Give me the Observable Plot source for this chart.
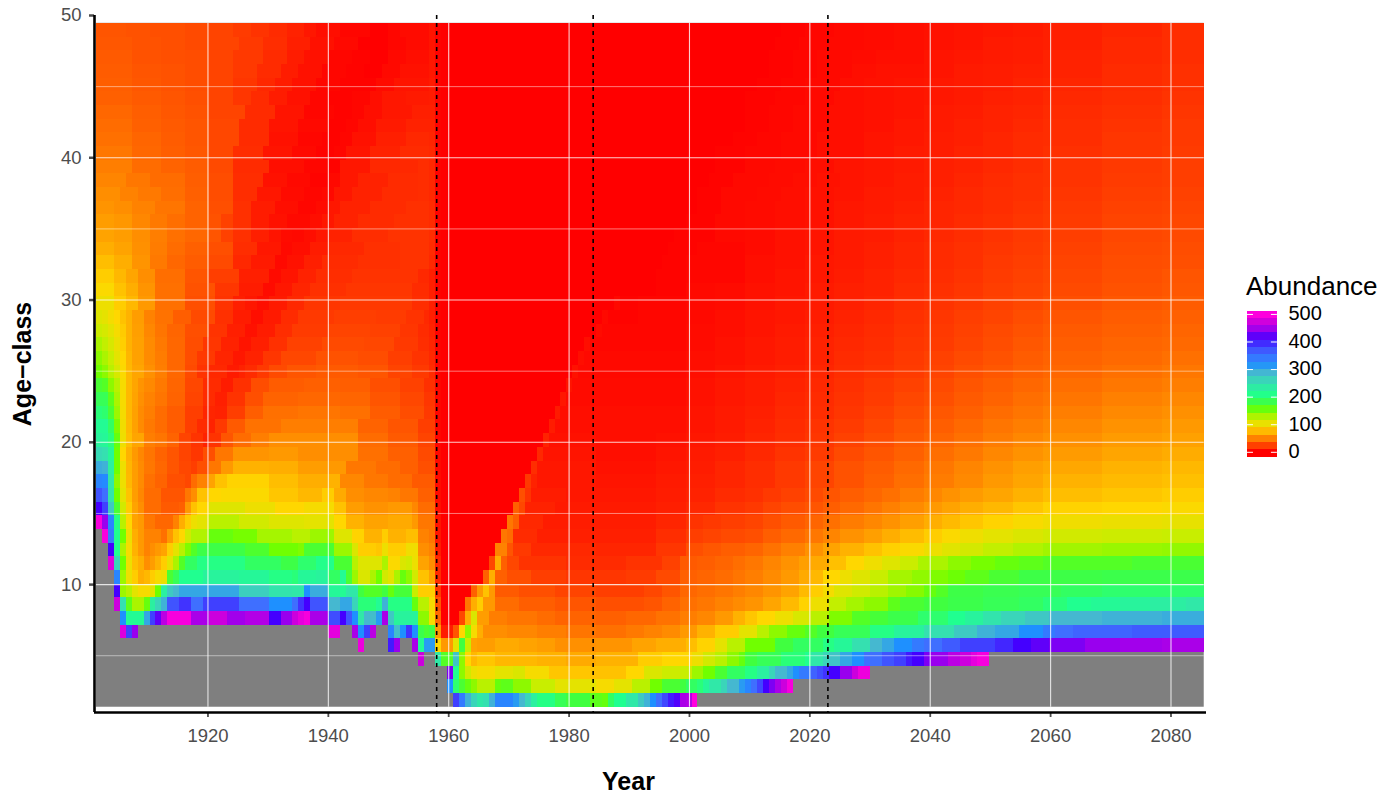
<!DOCTYPE html>
<html><head><meta charset="utf-8">
<script src="https://cdn.jsdelivr.net/npm/d3@7"></script>
<script src="https://cdn.jsdelivr.net/npm/@observablehq/plot@0.6"></script>
<style>
html,body{margin:0;padding:0;background:#fff;width:1393px;height:795px;overflow:hidden;font-family:"Liberation Sans",Arial,sans-serif}
#wrap{position:relative;width:1393px;height:795px}
#legendTitle{position:absolute;left:1246px;top:271px;font-size:26px;line-height:30px;color:#000}
#legend{position:absolute;left:1247px;top:300px}
</style></head><body><div id="wrap"><div id="main"></div><div id="legendTitle">Abundance</div><div id="legend"></div></div>
<script>
// Each row: year, value, year, value ... a value holds until the next listed year; null = no data.
const age01=[1901,null,1961,385,1962,340,1963,290,1964,260,1965,240,1966,250,1967,290,1968,330,1971,310,1972,285,1973,260,1974,230,1975,205,1978,185,1980,175,1984,160,1986,155,1987,190,1988,210,1990,240,1992,270,1993,290,1994,320,1995,350,1996,380,1997,400,1998,415,1999,450,2000,455,2001,500,2002,null];
const age02=[1901,null,1960,320,1961,195,1962,170,1963,155,1964,140,1965,125,1968,155,1969,160,1971,140,1974,120,1978,105,1985,95,1988,105,1991,125,1994,150,1996,170,1999,175,2000,190,2002,200,2003,220,2004,240,2006,260,2007,285,2009,310,2010,330,2011,350,2012,380,2013,410,2014,430,2015,450,2016,470,2017,495,2018,null];
const age03=[1901,null,1960,430,1961,210,1962,140,1963,115,1964,100,1965,95,1968,105,1971,110,1973,95,1977,82,1984,80,1990,90,1993,110,1996,118,1999,120,2001,135,2003,150,2005,170,2007,190,2010,205,2012,230,2014,260,2015,285,2017,300,2018,320,2019,340,2021,360,2022,375,2023,390,2024,410,2026,440,2028,470,2029,490,2031,null];
const age04=[1901,null,1955,470,1956,null,1958,240,1959,165,1961,275,1962,140,1963,90,1964,75,1965,82,1968,75,1975,72,1980,68,1985,72,1992,85,1996,90,2001,100,2003,115,2005,125,2007,140,2009,155,2010,175,2012,185,2016,200,2020,210,2021,240,2023,260,2024,275,2026,300,2028,320,2030,350,2033,370,2035,385,2037,400,2038,410,2040,430,2041,440,2044,460,2046,470,2048,485,2049,495,2051,null];
const age05=[1901,null,1945,490,1946,null,1950,400,1951,440,1952,null,1954,450,1955,215,1956,310,1958,90,1959,60,1961,105,1962,175,1963,120,1964,65,1965,62,1968,68,1972,65,1975,62,1978,56,1985,58,1991,65,1995,70,2000,78,2002,88,2005,105,2007,125,2010,150,2015,175,2018,190,2023,205,2025,220,2028,250,2031,285,2033,300,2035,320,2038,340,2040,350,2043,365,2046,385,2052,395,2055,410,2058,420,2061,430,2067,440,2073,445,2080,450];
const age06=[1901,null,1905,480,1906,385,1907,440,1908,null,1940,485,1942,null,1944,450,1945,320,1946,385,1947,460,1948,null,1950,330,1951,280,1952,320,1953,390,1954,320,1955,180,1956,170,1957,175,1958,60,1959,10,1961,30,1962,90,1963,140,1964,95,1965,70,1966,55,1970,52,1975,48,1980,44,1985,42,1990,46,1993,50,1996,54,1999,60,2002,72,2005,85,2009,105,2012,125,2014,140,2017,155,2020,165,2022,175,2025,185,2031,205,2035,225,2040,250,2045,270,2049,290,2052,300,2056,320,2060,340,2062,350,2065,358,2075,365];
const age07=[1901,null,1905,320,1906,215,1909,300,1910,385,1911,420,1912,460,1913,495,1917,450,1920,470,1923,445,1926,455,1930,410,1932,440,1934,470,1935,485,1936,495,1937,450,1940,375,1942,410,1943,370,1944,320,1945,240,1946,285,1947,280,1948,310,1949,450,1950,270,1951,225,1955,140,1957,95,1958,40,1959,0,1962,25,1963,70,1964,110,1965,62,1967,48,1970,44,1975,40,1978,36,1985,35,1990,38,1995,43,1999,48,2002,52,2005,60,2008,72,2010,82,2012,90,2015,100,2018,112,2021,125,2024,145,2028,165,2031,172,2034,180,2039,195,2044,210,2047,225,2050,245,2053,260,2057,272,2061,285,2070,290,2080,295];
const age08=[1901,null,1904,470,1905,250,1906,160,1907,130,1909,155,1910,230,1911,260,1912,290,1913,370,1915,390,1917,350,1919,385,1925,350,1930,320,1934,350,1935,390,1936,410,1937,370,1940,285,1942,300,1944,260,1945,200,1948,215,1949,290,1950,205,1954,155,1955,125,1957,95,1958,30,1959,0,1963,45,1964,70,1965,85,1966,60,1968,40,1972,34,1978,30,1985,28,1993,30,1996,36,1999,42,2002,45,2005,50,2008,54,2010,58,2013,66,2016,76,2019,88,2021,100,2024,122,2027,132,2030,140,2034,160,2036,170,2040,175,2044,180,2050,185,2056,190,2060,200,2064,210,2068,218,2073,225,2078,232,2084,240];
const age09=[1901,null,1904,410,1905,135,1906,125,1907,105,1908,95,1910,105,1911,150,1912,230,1913,270,1914,285,1915,300,1925,265,1930,245,1934,240,1936,320,1937,295,1940,220,1942,215,1943,240,1945,175,1946,165,1949,175,1950,155,1951,172,1954,120,1955,85,1958,20,1959,0,1964,35,1965,60,1966,80,1967,60,1968,32,1972,28,1978,24,1985,22,1993,25,1996,30,1999,38,2002,41,2005,44,2008,48,2010,52,2013,58,2016,65,2019,76,2021,85,2023,96,2025,108,2028,116,2031,125,2034,134,2037,142,2040,155,2042,165,2044,178,2050,182,2056,185,2063,190,2070,195];
const age10=[1901,null,1904,330,1905,135,1906,100,1907,85,1908,70,1909,75,1910,85,1911,95,1912,100,1913,170,1914,185,1915,210,1919,225,1925,220,1930,205,1934,200,1935,220,1938,225,1940,190,1942,215,1943,170,1944,135,1945,110,1947,130,1948,150,1949,115,1950,105,1951,130,1952,155,1953,140,1954,115,1955,80,1957,65,1958,15,1959,0,1966,35,1967,70,1968,35,1970,28,1974,22,1980,19,1990,21,1995,26,1999,35,2002,37,2005,40,2008,44,2010,48,2013,54,2016,60,2019,68,2021,75,2023,90,2026,100,2028,108,2031,120,2034,132,2038,139,2041,145,2044,152,2047,160,2051,170,2056,178,2070,180];
const age11=[1901,null,1903,480,1904,260,1905,150,1906,100,1907,78,1908,70,1909,55,1910,62,1911,72,1912,85,1913,105,1914,130,1915,165,1916,190,1918,205,1926,190,1932,178,1935,195,1938,208,1941,170,1944,125,1945,108,1949,130,1950,92,1952,110,1953,115,1954,100,1955,65,1957,55,1958,15,1959,0,1967,25,1968,70,1969,35,1970,25,1972,18,1980,15,1990,18,1996,23,1999,32,2002,34,2005,37,2008,41,2010,45,2013,51,2016,57,2019,63,2021,68,2024,79,2027,90,2030,99,2033,108,2036,119,2039,130,2044,140,2048,148,2052,155,2056,160,2060,165,2075,170];
const age12=[1901,null,1903,410,1904,210,1905,130,1906,95,1907,72,1908,60,1909,50,1910,55,1911,60,1912,65,1913,85,1914,105,1915,125,1916,145,1917,165,1918,178,1926,168,1930,150,1935,145,1936,170,1941,135,1944,110,1945,85,1948,82,1949,100,1950,85,1953,98,1955,55,1957,50,1958,10,1959,0,1968,50,1970,30,1971,20,1974,14,1985,13,1995,19,2000,28,2003,31,2006,34,2010,37,2013,43,2016,49,2020,57,2023,65,2026,72,2030,80,2033,87,2036,93,2040,100,2043,107,2046,114,2050,122,2055,128,2060,133,2070,136,2080,138];
const age13=[1901,null,1902,495,1903,340,1904,210,1905,150,1906,100,1907,70,1908,60,1909,50,1912,42,1913,60,1914,80,1915,90,1916,115,1917,128,1920,155,1924,148,1928,132,1934,125,1937,135,1941,108,1944,88,1946,72,1949,85,1950,72,1953,78,1955,50,1957,45,1958,8,1959,0,1969,45,1970,40,1971,15,1975,11,1985,11,1995,16,2000,22,2003,24,2006,26,2010,28,2013,34,2016,39,2020,45,2023,51,2026,57,2030,63,2033,70,2036,77,2040,85,2043,92,2046,99,2050,105,2055,110,2060,115,2070,118,2080,120];
const age14=[1901,495,1902,440,1903,330,1904,205,1905,125,1906,90,1907,65,1908,60,1909,45,1911,38,1914,50,1915,70,1916,85,1917,100,1918,105,1920,125,1925,115,1930,108,1936,105,1941,90,1943,72,1946,65,1950,68,1954,60,1955,45,1958,7,1959,0,1970,45,1971,35,1972,14,1976,10,1985,10,1995,13,2000,18,2003,20,2006,22,2010,24,2013,28,2016,32,2020,37,2023,42,2026,47,2030,52,2033,57,2036,63,2040,70,2043,76,2046,82,2050,88,2055,94,2060,98,2070,101,2080,103];
const age15=[1901,410,1902,385,1903,270,1904,170,1905,115,1906,85,1907,65,1908,55,1909,40,1912,32,1915,35,1916,60,1917,80,1918,90,1920,108,1926,100,1931,90,1936,95,1941,80,1943,62,1946,57,1950,60,1954,52,1955,40,1958,5,1959,0,1971,35,1972,25,1973,12,1978,9,1988,9,1995,11,2000,14,2005,18,2010,20,2013,24,2016,27,2020,30,2023,34,2026,39,2030,44,2033,49,2036,54,2040,60,2043,65,2046,70,2050,75,2055,82,2060,88,2070,90,2080,92];
const age16=[1901,370,1902,350,1903,245,1904,150,1905,105,1906,80,1907,62,1908,52,1909,40,1912,30,1916,45,1917,55,1918,80,1920,90,1922,92,1930,82,1935,75,1939,85,1941,68,1943,55,1946,52,1950,50,1952,45,1955,35,1958,4,1959,0,1972,28,1973,18,1974,10,1980,8,1990,8,1995,10,2000,12,2005,15,2010,17,2013,20,2016,23,2020,26,2023,30,2026,34,2030,38,2033,42,2036,47,2040,52,2043,57,2046,61,2050,66,2055,72,2060,78,2070,82,2080,85];
const age17=[1901,330,1902,325,1903,240,1904,140,1905,100,1906,75,1907,62,1908,54,1909,42,1911,36,1913,28,1916,25,1917,40,1918,50,1920,65,1921,80,1923,88,1930,78,1935,70,1940,72,1942,52,1946,45,1950,40,1954,32,1958,4,1959,0,1973,20,1974,12,1975,8,1985,7,1995,9,2000,11,2005,13,2010,16,2015,20,2020,24,2025,29,2030,35,2035,41,2040,47,2045,53,2050,60,2055,66,2060,72,2070,76,2080,79];
const age18=[1901,295,1902,290,1903,230,1904,150,1905,100,1906,74,1907,62,1908,54,1909,45,1911,38,1913,30,1915,25,1917,22,1918,28,1920,45,1922,60,1924,72,1930,70,1935,62,1940,60,1943,45,1948,40,1952,35,1955,28,1958,3,1959,0,1974,16,1975,8,1985,6,1995,8,2000,10,2005,13,2010,16,2015,20,2020,24,2025,29,2030,33,2035,39,2040,45,2045,51,2050,57,2055,63,2060,67,2070,72,2080,75];
const age19=[1901,255,1902,250,1903,220,1904,150,1905,90,1906,72,1907,60,1908,52,1909,44,1911,36,1913,30,1915,24,1917,19,1919,28,1921,45,1924,58,1930,60,1935,55,1940,55,1945,42,1950,35,1955,26,1958,3,1959,0,1975,14,1976,7,1985,5,1995,7,2000,9,2005,11,2010,14,2015,18,2020,21,2025,26,2030,30,2035,35,2040,41,2045,46,2050,52,2055,57,2060,61,2070,66,2080,69];
const age20=[1901,225,1902,220,1903,200,1904,155,1905,100,1906,78,1907,66,1909,48,1911,44,1913,36,1915,24,1917,18,1919,12,1920,18,1922,30,1924,40,1927,48,1930,55,1940,55,1945,40,1950,32,1955,24,1958,2,1959,0,1976,12,1977,6,1985,5,1995,6,2000,8,2005,10,2010,13,2015,16,2020,19,2025,23,2030,27,2035,32,2040,37,2045,42,2050,47,2055,52,2060,56,2070,61,2080,64];
const age21=[1901,215,1903,190,1904,145,1905,98,1906,76,1907,64,1908,54,1909,46,1911,40,1913,33,1916,22,1918,15,1920,12,1921,20,1923,32,1926,43,1932,48,1940,48,1945,36,1950,30,1955,22,1958,2,1959,0,1977,10,1978,5,1990,5,2000,7,2005,9,2010,12,2015,15,2020,18,2025,21,2030,25,2035,30,2040,34,2045,39,2050,44,2055,48,2060,52,2070,57,2080,60];
const age22=[1901,200,1902,195,1903,170,1904,135,1905,96,1906,75,1907,64,1908,54,1909,48,1911,40,1913,33,1916,22,1919,13,1921,12,1923,22,1926,34,1929,42,1935,44,1942,42,1947,33,1952,27,1956,20,1958,2,1959,0,1978,9,1979,5,1990,5,2000,7,2005,9,2010,11,2015,14,2020,16,2025,19,2030,23,2035,27,2040,31,2045,35,2050,40,2055,44,2060,48,2070,53,2080,56];
const age23=[1901,185,1903,160,1904,130,1905,95,1906,75,1907,65,1908,56,1909,50,1911,44,1913,36,1916,24,1919,15,1921,11,1923,18,1926,28,1929,36,1935,38,1942,37,1947,30,1952,25,1956,19,1958,2,1959,0,1979,8,1980,4,1990,4,2000,6,2005,8,2010,10,2015,13,2020,15,2025,18,2030,21,2035,25,2040,28,2045,32,2050,36,2055,41,2060,44,2070,49,2080,52];
const age24=[1901,170,1902,165,1903,140,1904,125,1905,95,1906,75,1907,66,1908,58,1909,53,1911,46,1913,37,1916,25,1919,15,1922,10,1924,17,1927,27,1930,33,1936,35,1942,34,1947,28,1952,23,1956,17,1958,2,1959,0,1980,7,1981,4,1990,4,2000,6,2005,8,2010,10,2015,12,2020,14,2025,17,2030,20,2035,23,2040,26,2045,30,2050,34,2055,38,2060,41,2070,45,2080,48];
const age25=[1901,150,1902,140,1903,125,1904,112,1905,92,1906,75,1907,66,1909,56,1911,48,1913,38,1916,26,1918,18,1920,14,1923,9,1925,12,1926,15,1928,20,1930,26,1933,30,1938,32,1945,30,1950,24,1954,20,1957,15,1958,1,1959,0,1981,6,1982,3,1990,3,2000,5,2005,7,2010,9,2015,11,2020,13,2025,16,2030,18,2035,21,2040,24,2045,28,2050,31,2055,35,2060,38,2070,42,2080,45];
const age26=[1901,140,1902,130,1903,120,1904,105,1905,90,1906,74,1907,64,1909,54,1911,47,1913,38,1916,27,1918,20,1921,13,1924,8,1926,12,1929,19,1932,25,1938,29,1945,27,1950,22,1954,18,1957,14,1958,1,1959,0,1982,5,1983,3,1990,3,2000,5,2005,6,2010,8,2015,10,2020,12,2025,15,2030,17,2035,20,2040,23,2045,26,2050,29,2055,33,2060,36,2070,39,2080,42];
const age27=[1901,130,1902,122,1903,112,1904,100,1905,86,1906,72,1907,64,1909,54,1911,46,1913,38,1916,27,1919,19,1922,12,1925,7,1927,11,1930,17,1933,23,1939,26,1946,25,1951,20,1955,16,1957,13,1958,1,1959,0,1983,5,1984,2,1990,2,2000,4,2005,6,2010,8,2015,10,2020,12,2025,14,2030,16,2035,19,2040,21,2045,24,2050,27,2055,31,2060,34,2070,37,2080,39];
const age28=[1901,118,1902,113,1903,105,1904,95,1905,84,1906,72,1907,63,1909,52,1911,44,1913,37,1916,28,1920,18,1923,11,1926,6,1928,10,1931,16,1934,21,1940,24,1947,23,1952,19,1955,15,1957,12,1958,1,1959,0,1985,4,1986,2,1992,2,2000,4,2005,5,2010,7,2015,9,2020,11,2025,13,2030,15,2035,18,2040,20,2045,23,2050,26,2055,29,2060,32,2070,35,2080,37];
const age29=[1901,108,1902,104,1903,96,1904,90,1905,80,1906,72,1907,62,1909,50,1911,43,1914,34,1917,26,1921,17,1924,10,1927,5,1929,9,1932,15,1935,20,1941,22,1948,21,1953,18,1956,14,1957,11,1958,1,1959,0,1986,3,1987,1,1992,2,2000,3,2005,5,2010,7,2015,8,2020,10,2025,12,2030,14,2035,17,2040,19,2045,22,2050,24,2055,27,2060,30,2070,33,2080,35];
const age30=[1901,100,1904,85,1906,75,1908,60,1911,42,1916,28,1921,18,1924,11,1926,8,1928,5,1930,9,1933,14,1936,19,1942,20,1949,20,1954,16,1957,11,1958,1,1959,0,1988,3,1989,1,1992,2,2000,3,2005,4,2010,6,2015,8,2020,9,2025,11,2030,13,2035,16,2040,18,2045,20,2050,23,2055,25,2060,28,2070,31,2080,33];
const age31=[1901,92,1904,80,1906,70,1908,58,1911,42,1916,29,1921,19,1925,10,1929,4,1931,8,1934,13,1937,17,1943,19,1950,19,1954,15,1957,11,1958,1,1959,0,1995,1,2000,3,2005,4,2010,6,2015,7,2020,9,2025,11,2030,12,2035,15,2040,17,2045,19,2050,22,2055,24,2060,26,2070,29,2080,31];
const age32=[1901,85,1904,75,1906,66,1908,55,1911,41,1916,30,1920,22,1925,11,1930,4,1932,7,1935,12,1938,16,1944,18,1951,18,1955,14,1957,11,1958,1,1959,0,1995,1,2000,2,2010,5,2015,7,2020,8,2025,10,2030,12,2035,14,2040,16,2045,18,2050,21,2055,23,2060,25,2070,28,2080,30];
const age33=[1901,78,1904,70,1907,58,1910,46,1913,38,1916,33,1920,26,1924,14,1927,9,1931,3,1933,6,1936,11,1939,15,1945,17,1952,18,1957,14,1958,1,1959,0,1996,1,2000,2,2010,5,2015,6,2020,8,2025,9,2030,11,2035,13,2040,15,2045,17,2050,20,2055,22,2060,24,2070,27,2080,28];
const age34=[1901,70,1904,65,1907,56,1910,47,1913,40,1916,35,1920,28,1924,16,1928,8,1932,3,1934,5,1937,10,1940,14,1946,17,1952,18,1957,15,1958,1,1959,0,1997,1,2002,2,2010,4,2015,6,2020,7,2025,9,2030,11,2035,13,2040,15,2045,17,2050,19,2055,21,2060,23,2070,26,2080,27];
const age35=[1901,65,1904,62,1907,55,1910,48,1913,42,1916,38,1920,30,1922,23,1924,17,1927,11,1930,7,1932,4,1934,3,1936,5,1938,8,1940,12,1944,16,1950,18,1957,16,1958,1,1959,0,1998,1,2005,3,2010,4,2015,6,2020,7,2025,9,2030,10,2035,12,2040,14,2045,16,2050,18,2055,20,2060,22,2070,25,2080,26];
const age36=[1901,62,1904,59,1907,52,1910,46,1913,41,1916,36,1920,29,1922,23,1924,17,1927,10,1930,6,1933,3,1935,3,1937,5,1939,8,1941,12,1945,15,1951,17,1957,15,1958,1,1959,0,2000,1,2005,3,2010,4,2015,5,2020,6,2025,8,2030,10,2035,12,2040,13,2045,15,2050,17,2055,19,2060,21,2070,24,2080,25];
const age37=[1901,58,1904,55,1907,50,1911,44,1916,36,1920,28,1924,17,1927,10,1931,5,1935,2,1938,4,1940,8,1942,12,1947,15,1953,17,1957,15,1958,1,1959,0,2002,1,2006,3,2010,4,2015,5,2020,6,2025,8,2030,9,2035,11,2040,13,2045,14,2050,16,2055,18,2060,20,2070,23,2080,24];
const age38=[1901,55,1905,50,1908,46,1912,41,1916,35,1920,27,1924,16,1928,8,1932,4,1936,2,1939,3,1941,8,1944,12,1949,15,1955,16,1957,14,1958,1,1959,0,2002,1,2006,3,2012,4,2016,5,2020,6,2025,7,2030,9,2035,10,2040,12,2045,14,2050,16,2055,17,2060,19,2070,22,2080,23];
const age39=[1901,51,1906,45,1910,40,1916,34,1920,27,1924,16,1929,6,1933,3,1937,1,1940,3,1942,8,1945,12,1950,15,1955,16,1957,14,1958,1,1959,0,2004,1,2008,3,2014,4,2018,5,2022,6,2026,7,2030,8,2035,10,2040,11,2045,13,2050,15,2055,17,2060,18,2070,21,2080,22];
const age40=[1901,48,1907,40,1912,36,1916,33,1920,26,1924,15,1930,5,1936,2,1940,1,1942,8,1947,14,1955,16,1957,14,1958,1,1959,0,2005,1,2010,3,2015,4,2020,5,2025,7,2030,8,2035,9,2040,11,2045,12,2050,14,2055,16,2060,18,2070,20,2080,22];
const age41=[1901,45,1907,38,1912,34,1916,31,1920,25,1924,16,1929,7,1934,3,1938,1,1941,2,1943,7,1947,12,1952,15,1957,14,1958,1,1959,0,2005,1,2010,2,2016,3,2022,5,2030,7,2035,9,2040,10,2045,12,2050,13,2055,15,2060,17,2070,19,2080,21];
const age42=[1901,42,1907,37,1912,33,1916,30,1920,25,1925,15,1930,6,1935,2,1939,1,1942,2,1944,6,1948,11,1953,14,1957,13,1958,1,1959,0,2008,1,2012,2,2016,3,2022,5,2030,7,2035,8,2040,10,2045,11,2050,13,2055,15,2060,16,2070,19,2080,20];
const age43=[1901,40,1907,35,1912,32,1916,30,1920,25,1925,15,1930,7,1935,3,1940,1,1943,2,1945,5,1948,9,1953,12,1957,12,1958,1,1959,0,2010,1,2014,2,2018,3,2024,5,2030,6,2035,8,2040,9,2045,11,2050,12,2055,14,2060,16,2070,18,2080,20];
const age44=[1901,38,1907,34,1912,31,1916,29,1920,24,1926,15,1931,7,1936,2,1941,1,1944,2,1946,5,1949,8,1954,11,1957,11,1958,1,1959,0,2010,1,2014,2,2018,3,2024,5,2030,6,2035,7,2040,9,2045,10,2050,12,2055,13,2060,15,2070,17,2080,19];
const age45=[1901,35,1907,32,1912,30,1916,28,1920,24,1924,19,1927,15,1930,10,1933,6,1937,2,1940,1,1944,2,1947,5,1949,8,1953,9,1957,10,1958,1,1959,0,2010,1,2015,2,2020,3,2025,5,2030,6,2035,7,2040,8,2045,9,2050,11,2055,12,2060,14,2070,16,2080,18];
const age46=[1901,34,1907,31,1912,29,1916,27,1920,24,1924,19,1928,14,1931,10,1934,6,1938,2,1942,1,1945,1,1948,4,1951,7,1957,9,1958,1,1959,0,2012,1,2016,2,2020,3,2026,5,2030,6,2035,7,2040,8,2045,9,2050,10,2055,12,2060,13,2070,15,2080,17];
const age47=[1901,33,1907,30,1912,29,1916,27,1920,24,1924,20,1928,15,1932,10,1935,6,1939,2,1943,1,1946,0,1949,3,1952,6,1957,8,1958,1,1959,0,2014,1,2018,2,2022,3,2028,5,2032,6,2040,7,2045,9,2050,10,2055,11,2060,12,2070,15,2080,17];
const age48=[1901,32,1907,29,1912,28,1916,27,1920,24,1924,20,1929,15,1933,10,1936,6,1940,2,1944,1,1947,0,1950,3,1953,5,1957,8,1958,1,1959,0,2014,1,2018,2,2022,3,2028,4,2032,5,2040,7,2045,8,2050,9,2055,10,2060,12,2070,14,2080,16];
const age49=[1901,31,1907,29,1912,28,1916,26,1920,24,1925,20,1929,16,1933,11,1937,6,1941,3,1945,0,1950,2,1953,4,1957,7,1958,1,1959,0,2015,1,2019,2,2024,3,2030,4,2035,5,2040,6,2045,7,2050,9,2055,10,2060,11,2070,14,2080,16];
const age50=[1901,30,1906,29,1910,28,1916,26,1920,24,1924,21,1927,18,1930,15,1933,12,1936,8,1938,5,1942,2,1947,0,1950,2,1952,4,1957,7,1958,1,1959,0,2016,1,2020,2,2025,3,2030,4,2035,5,2040,6,2045,7,2050,8,2055,9,2060,11,2070,13,2080,16];
const ageRows=[age01,age02,age03,age04,age05,age06,age07,age08,age09,age10,age11,age12,age13,age14,age15,age16,age17,age18,age19,age20,age21,age22,age23,age24,age25,age26,age27,age28,age29,age30,age31,age32,age33,age34,age35,age36,age37,age38,age39,age40,age41,age42,age43,age44,age45,age46,age47,age48,age49,age50];

const yearTicks=[1920,1940,1960,1980,2000,2020,2040,2060,2080];
const ageTicks=[10,20,30,40,50];
const ageMinor=[5,15,25,35,45];
const periodYears=[1958,1984,2023];
const legendTicks=[0,100,200,300,400,500];
const legendBins=[0,1,2,3,4,5,6,7,8,9,10,11,12,13,14,15,16,17,18,19];
const colorStops=[0,30,60,90,120,150,175,210,250,285,320,350,385,410,440,470,500];
const colorHex=["#ff0000","#ff5500","#ff9900","#ffd700","#c8ee00","#70ff00","#40ff40","#20ff90","#35e0b0","#45b8d0","#1e90ff","#3f6fff","#4040ff","#4400ff","#9900ee","#cc00dd","#ff00dd"];
const colorOpts={type:"linear",domain:colorStops,range:colorHex,clamp:true,interpolate:"rgb"};

// Rows and columns of the raster are stretched slightly against the axes, as in the original image.
const colStep=0.98953, colStart=1901.47, rowStep=0.9614, rowStart=1.38;
const firstYear=1901,lastYear=2086;
const cells=[];
ageRows.forEach((row,ri)=>{
  for(let i=0;i<row.length;i+=2){
    const from=row[i], to=i+2<row.length?row[i+2]:lastYear+1, v=row[i+1];
    if(v==null) continue;
    for(let y=from;y<to;y++) cells.push({year:y,age:ri+1,value:v});
  }
});

const txt="#4d4d4d";
const plot=Plot.plot({
  width:1393,height:795,marginLeft:94,marginRight:187,marginTop:15,marginBottom:83,
  style:{fontFamily:'"Liberation Sans",Arial,sans-serif',background:"#fff",overflow:"visible"},
  x:{domain:[1901.15,2085.9]},
  y:{domain:[1.01,50]},
  color:colorOpts,
  marks:[
    Plot.rect([{a:colStart,b:colStart+186*colStep,c:rowStart,d:rowStart+50*rowStep}],{x1:"a",x2:"b",y1:"c",y2:"d",fill:"#7f7f7f"}),
    Plot.rect(cells,{
      x1:d=>colStart+(d.year-firstYear)*colStep,
      x2:d=>colStart+(d.year-firstYear+1)*colStep,
      y1:d=>rowStart+(d.age-1)*rowStep,
      y2:d=>rowStart+d.age*rowStep,
      fill:"value",shapeRendering:"crispEdges"}),
    Plot.ruleY(ageMinor,{x1:colStart,x2:colStart+186*colStep,stroke:"#fff",strokeWidth:0.6,strokeOpacity:0.8}),
    Plot.ruleY(ageTicks,{x1:colStart,x2:colStart+186*colStep,stroke:"#fff",strokeWidth:1.1,strokeOpacity:0.8}),
    Plot.ruleX(yearTicks,{y1:rowStart,y2:rowStart+50*rowStep,stroke:"#fff",strokeWidth:1.1,strokeOpacity:0.8}),
    Plot.ruleX(periodYears,{stroke:"#000",strokeWidth:1.6,strokeDasharray:"4 4"}),
    Plot.axisX({ticks:yearTicks,tickFormat:d=>String(d),tickSize:5,tickPadding:11,fontSize:18.5,label:null,color:txt,strokeWidth:1.8}),
    Plot.axisY({ticks:ageTicks,tickSize:5,tickPadding:8,fontSize:18.5,label:null,color:txt,strokeWidth:2.5}),
    Plot.ruleX([1901.15],{stroke:"#000",strokeWidth:2.6}),
    Plot.ruleY([1.01],{stroke:"#000",strokeWidth:2.6}),
    Plot.text(["Year"],{frameAnchor:"bottom",dy:77,dx:-22,fontSize:25,fontWeight:"bold",fill:"#000"}),
    Plot.text(["Age\u2212class"],{frameAnchor:"left",textAnchor:"middle",dx:-72,rotate:-90,fontSize:25,fontWeight:"bold",fill:"#000"})
  ]
});
document.getElementById("main").appendChild(plot);

const legendLo=-17, binStep=26.45;
const legend=Plot.plot({
  width:146,height:166,marginLeft:0,marginRight:100,marginTop:10.6,marginBottom:9.5,
  style:{fontFamily:'"Liberation Sans",Arial,sans-serif',background:"transparent",overflow:"visible"},
  x:{domain:[0,1],axis:null},
  y:{domain:[legendLo,legendLo+20*binStep],axis:null},
  color:colorOpts,
  marks:[
    Plot.rect(legendBins,{x1:0,x2:0.65,y1:d=>legendLo+d*binStep,y2:d=>legendLo+(d+1)*binStep,fill:d=>legendLo+(d+.5)*binStep,shapeRendering:"crispEdges"}),
    Plot.ruleY(legendTicks,{x1:0,x2:0.13,stroke:"#fff",strokeWidth:1}),
    Plot.ruleY(legendTicks,{x1:0.52,x2:0.65,stroke:"#fff",strokeWidth:1}),
    Plot.text(legendTicks,{x:0.89,y:d=>d,dy:-0.5,text:d=>String(d),textAnchor:"start",fontSize:20,fill:"#000"})
  ]
});
document.getElementById("legend").appendChild(legend);
</script></body></html>
